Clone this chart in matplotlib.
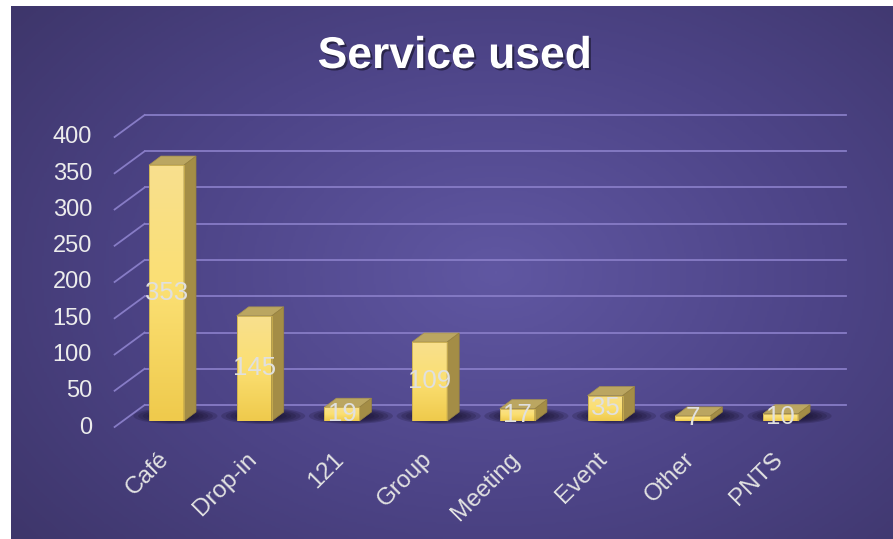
import matplotlib
matplotlib.use("Agg")
import matplotlib.pyplot as plt
import matplotlib.patheffects as pe
import numpy as np
from matplotlib import transforms
from matplotlib.colors import LinearSegmentedColormap
from matplotlib.patches import Polygon, Ellipse

categories = ["Café", "Drop-in", "121", "Group", "Meeting", "Event", "Other", "PNTS"]
counts = [353, 145, 19, 109, 17, 35, 7, 10]
y_ticks = [0, 50, 100, 150, 200, 250, 300, 350, 400]

W, H = 893, 539
DPI = 100
plt.rcParams["font.family"] = ["Liberation Sans", "DejaVu Sans"]

fig = plt.figure(figsize=(W / DPI, H / DPI), dpi=DPI)
fig.patch.set_facecolor("white")

# background panel, radial purple gradient
bg = fig.add_axes([11 / W, 0, (W - 11) / W, (H - 6) / H])
bg.set_axis_off()
gx, gy = np.meshgrid(np.linspace(0, 1, 400), np.linspace(0, 1, 250))
r = np.sqrt(((gx - 0.55) / 0.75) ** 2 + ((gy - 0.5) / 0.85) ** 2)
bg_cmap = LinearSegmentedColormap.from_list("bg", ["#6057a2", "#4d4487", "#3c3467"])
bg.imshow(np.clip(r, 0, 1), cmap=bg_cmap, aspect="auto", extent=(0, 1, 0, 1),
          origin="lower", vmin=0, vmax=1)

# main axes = front plane of the bars
ax = fig.add_axes([122.6 / W, 118 / H, 701.8 / W, 290 / H])
ax.set_axis_off()
ax.patch.set_alpha(0)

x = np.arange(len(categories))
bw = 0.4


def shifted(dx, dy):
    return transforms.offset_copy(ax.transData, fig=fig, x=dx, y=dy, units="dots")


def set_limits():
    ax.set_xlim(-0.5, len(categories) - 0.5)
    ax.set_ylim(0, 400)


set_limits()
ident = transforms.IdentityTransform()
back = shifted(22, 16)
front = shifted(-8, -6)
grid_c = "#877cc6"

# gridlines on back wall + left wall diagonals
for v in y_ticks:
    ax.plot([-0.5, len(categories) - 0.5], [v, v], color=grid_c, lw=1.3,
            transform=back, clip_on=False, zorder=1)
    p0 = front.transform((-0.5, v))
    p1 = back.transform((-0.5, v))
    ax.plot([p0[0], p1[0]], [p0[1], p1[1]], color=grid_c, lw=1.3,
            transform=ident, clip_on=False, zorder=1)
    ax.text(-0.5, v, f"{v}", transform=shifted(-30.6, -6.5), ha="right",
            va="center", fontsize=17, color="#ececec")

# soft shadows behind the bars
for xi in x:
    c = ax.transData.transform((xi, 0)) + np.array([9, 5])
    for k in range(7):
        s = 1 - k * 0.11
        ax.add_patch(Ellipse(c, 84 * s, 16 * s, transform=ident, fc="#140e28",
                             ec="none", alpha=0.2, clip_on=False, zorder=1.5))

# front faces with gradient
bars = ax.bar(x, counts, width=bw, color="none", edgecolor="#c9ad4f", lw=0.6, zorder=3)
grad = np.linspace(0, 1, 100).reshape(-1, 1)
face_cmap = LinearSegmentedColormap.from_list("face", ["#efca4c", "#fbdf72", "#f8e08e"])
for rect in bars:
    x0, h = rect.get_x(), rect.get_height()
    im = ax.imshow(grad, cmap=face_cmap, extent=(x0, x0 + bw, 0, h), origin="lower",
                   aspect="auto", zorder=2.5)
    im.set_clip_path(rect)
set_limits()

# top and side faces
depth = np.array([12, 9])
for xi, v in zip(x, counts):
    fl = ax.transData.transform((xi - bw / 2, v))
    fr = ax.transData.transform((xi + bw / 2, v))
    br = ax.transData.transform((xi + bw / 2, 0))
    ax.add_patch(Polygon([fl, fr, fr + depth, fl + depth], closed=True, transform=ident,
                         fc="#bba661", ec="#a8934f", lw=0.5, clip_on=False, zorder=2.6))
    ax.add_patch(Polygon([fr, br, br + depth, fr + depth], closed=True, transform=ident,
                         fc="#a48d46", ec="#97823f", lw=0.5, clip_on=False, zorder=2.6))

# value labels
for xi, v in zip(x, counts):
    ax.text(xi, v / 2, str(v), ha="center", va="center", fontsize=18.5,
            color="#e0e0e0", zorder=5)

# category labels
for xi, name in zip(x, categories):
    ax.text(xi, 0, name, transform=shifted(-9, -27), rotation=45, rotation_mode="anchor",
            ha="right", va="top", fontsize=17.5, color="#e2e2e2")

fig.text(455 / W, 1 - 68 / H, "Service used", ha="center", va="baseline", fontsize=32,
         weight="bold", color="white",
         path_effects=[pe.withSimplePatchShadow(offset=(1.5, -1.5), shadow_rgbFace="black",
                                                alpha=0.45)])

fig.savefig("out.png", dpi=DPI)
